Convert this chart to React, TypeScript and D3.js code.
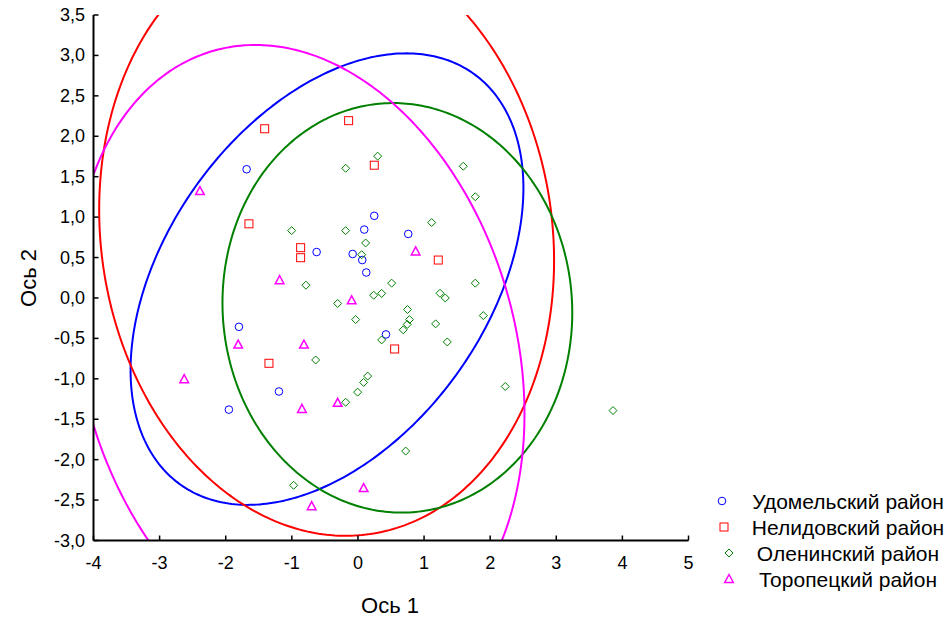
import React from "react";
import * as d3 from "d3";

const xTicks = [-4, -3, -2, -1, 0, 1, 2, 3, 4, 5];
const yTicks = [-3, -2.5, -2, -1.5, -1, -0.5, 0, 0.5, 1, 1.5, 2, 2.5, 3, 3.5];

const udomX = [-1.684, -0.625, -0.08, 0.247, 0.095, 0.065, 0.126, 0.761, -1.8, -1.195, -1.952, 0.424];
const udomY = [1.592, 0.568, 0.544, 1.016, 0.846, 0.469, 0.315, 0.792, -0.357, -1.157, -1.381, -0.451];

const nelidX = [-1.411, -0.141, 0.247, -1.649, -0.867, -0.867, 1.215, -1.346, 0.555];
const nelidY = [2.093, 2.193, 1.642, 0.917, 0.622, 0.498, 0.469, -0.808, -0.631];

const olenX = [0.298, -0.186, 1.593, 1.775, 1.115, -1.003, -0.186, 0.116, 0.056, -0.787, 0.51, 0.238, 0.359, 1.775, 1.241, 1.321, -0.307, 0.749, 1.896, -0.035, 0.779, 0.746, 0.685, 1.175, 0.359, 1.351, -0.64, 0.147, 0.086, -0.005, -0.186, 2.228, 3.858, 0.722, -0.973];
const olenY = [1.754, 1.604, 1.629, 1.252, 0.933, 0.833, 0.833, 0.68, 0.535, 0.158, 0.183, 0.034, 0.056, 0.183, 0.058, 0.0, -0.068, -0.143, -0.218, -0.267, -0.267, -0.327, -0.394, -0.32, -0.519, -0.544, -0.767, -0.966, -1.045, -1.165, -1.29, -1.095, -1.393, -1.894, -2.317];

const toropX = [-2.39, -1.185, -0.095, 0.873, -1.811, -0.817, -2.628, -0.847, -0.307, -0.7, 0.086];
const toropY = [1.322, 0.22, -0.029, 0.576, -0.576, -0.576, -1.004, -1.372, -1.297, -2.575, -2.351];

const seriesNames = ["Удомельский район", "Нелидовский район", "Оленинский район", "Торопецкий район"];
const seriesColors = ["#0000ff", "#ff0000", "#008000", "#ff00ff"];
const seriesShapes = ["circle", "square", "diamond", "triangle"];

const W = 950, H = 621;
const L = 93.5, R = 688.5, T = 15, B = 540.5;

const FONT = "'Liberation Sans', Arial, sans-serif";

function predictionEllipse(xs: number[], ys: number[]) {
  const n = xs.length;
  const mx = d3.mean(xs)!, my = d3.mean(ys)!;
  const sx = d3.deviation(xs)!, sy = d3.deviation(ys)!;
  let cov = 0;
  for (let i = 0; i < n; i++) cov += (xs[i] - mx) * (ys[i] - my);
  cov /= n - 1;
  const r = cov / (sx * sy);
  const d = n - 2;
  const F = (d / 2) * (Math.pow(0.05, -2 / d) - 1);
  const k = Math.sqrt((2 * (n - 1) * (n + 1)) / (n * (n - 2)) * F);
  const pts: [number, number][] = [];
  for (let i = 0; i <= 360; i++) {
    const t = (i / 360) * 2 * Math.PI;
    pts.push([
      mx + k * sx * Math.cos(t),
      my + k * sy * (r * Math.cos(t) + Math.sqrt(1 - r * r) * Math.sin(t)),
    ]);
  }
  return pts;
}

function Marker({ shape, x, y, color }: { shape: string; x: number; y: number; color: string }) {
  const p = { fill: "none", stroke: color, strokeWidth: 1 };
  if (shape === "circle") return <circle cx={x} cy={y} r={3.8} {...p} />;
  if (shape === "square") return <rect x={x - 4} y={y - 4} width={8} height={8} {...p} />;
  if (shape === "diamond")
    return <path d={`M${x},${y - 4}L${x + 4},${y}L${x},${y + 4}L${x - 4},${y}Z`} {...p} />;
  return <path d={`M${x},${y - 4.5}L${x + 4.3},${y + 3.5}L${x - 4.3},${y + 3.5}Z`} {...p} strokeWidth={1.5} />;
}

export default function App() {
  const x = d3.scaleLinear().domain([-4, 5]).range([L, R]);
  const y = d3.scaleLinear().domain([-3, 3.5]).range([B, T]);
  const line = d3.line<[number, number]>().x((d) => x(d[0])).y((d) => y(d[1]));

  const series = [
    { xs: udomX, ys: udomY },
    { xs: nelidX, ys: nelidY },
    { xs: olenX, ys: olenY },
    { xs: toropX, ys: toropY },
  ];

  const legendRows = [501, 527, 553, 579];
  const legendMarkerX = [722, 724, 729, 729];

  return (
    <svg width={W} height={H} style={{ position: "absolute", left: 0, top: 0, background: "#fff" }} fontFamily={FONT}>
      <defs>
        <clipPath id="plot">
          <rect x={L} y={T} width={R - L} height={B - T} />
        </clipPath>
      </defs>
      <g clipPath="url(#plot)">
        {series.map((s, i) => (
          <path key={"e" + i} d={line(predictionEllipse(s.xs, s.ys))!} fill="none" stroke={seriesColors[i]} strokeWidth={2} />
        ))}
      </g>
      {series.map((s, i) => (
        <g key={"m" + i}>
          {s.xs.map((v, j) => (
            <Marker key={j} shape={seriesShapes[i]} x={x(v)} y={y(s.ys[j])} color={seriesColors[i]} />
          ))}
        </g>
      ))}
      <line x1={L} x2={L} y1={T} y2={B} stroke="#000" strokeWidth={2} />
      <line x1={L} x2={R} y1={B} y2={B} stroke="#000" strokeWidth={2} />
      {xTicks.map((t) => (
        <g key={"xt" + t}>
          <line x1={x(t)} x2={x(t)} y1={B} y2={B - 5} stroke="#000" strokeWidth={1.5} />
          <text x={x(t)} y={563} textAnchor="middle" dominantBaseline="central" fontSize={18}>
            {String(t)}
          </text>
        </g>
      ))}
      {yTicks.map((t) => (
        <g key={"yt" + t}>
          <line x1={L} x2={L + 5} y1={y(t)} y2={y(t)} stroke="#000" strokeWidth={1.5} />
          <text x={85} y={y(t)} textAnchor="end" dominantBaseline="central" fontSize={18}>
            {t.toFixed(1).replace(".", ",")}
          </text>
        </g>
      ))}
      <text x={390} y={605} textAnchor="middle" dominantBaseline="central" fontSize={22}>
        Ось 1
      </text>
      <text transform="translate(28,278) rotate(-90)" textAnchor="middle" dominantBaseline="central" fontSize={22}>
        Ось 2
      </text>
      {seriesNames.map((name, i) => (
        <g key={"l" + i}>
          <Marker shape={seriesShapes[i]} x={legendMarkerX[i]} y={legendRows[i]} color={seriesColors[i]} />
          <text x={848} y={legendRows[i]} textAnchor="middle" dominantBaseline="central" fontSize={21}>
            {name}
          </text>
        </g>
      ))}
    </svg>
  );
}
